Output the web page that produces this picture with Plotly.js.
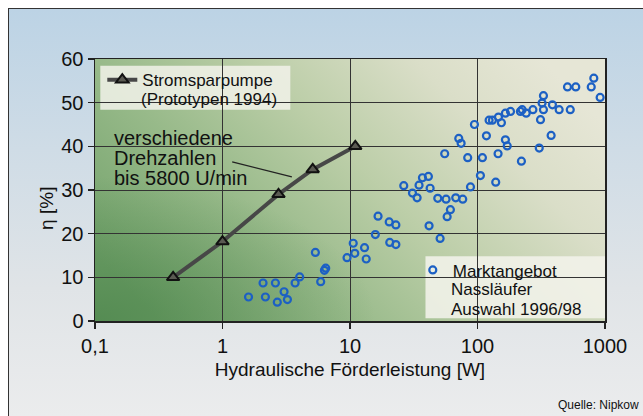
<!DOCTYPE html>
<html><head><meta charset="utf-8">
<script src="https://cdn.plot.ly/plotly-3.0.1.min.js"></script>
<style>
html,body{margin:0;padding:0;background:#fff;}
#wrap{position:relative;width:643px;height:416px;overflow:hidden;background:#fff;}
#frame{position:absolute;left:8px;top:8px;width:700px;height:500px;border-left:1.5px solid #333;border-top:1.5px solid #333;
background:linear-gradient(to bottom,#bcd3e5 0px,#cfdce6 140px,#e0e4e7 280px,#ebeced 408px);}
#chart{position:absolute;left:0;top:0;width:643px;height:416px;}
</style></head>
<body><div id="wrap"><div id="frame"></div><div id="chart"></div></div>
<script>
// Stromsparpumpe (Prototypen 1994)
const protoX = [0.41, 1.0, 2.75, 5.1, 11.0];
const protoY = [10.0, 18.2, 29.0, 34.7, 40.0];

// Marktangebot Nassläufer, Auswahl 1996/98
const marketX = [1.60, 2.08, 2.17, 2.60, 2.69, 3.04, 3.23, 3.71, 4.03, 5.35, 5.89, 6.3, 6.45, 9.48,
  10.6, 10.9, 13.0, 13.4, 15.8, 16.6, 20.3, 22.9, 20.5, 22.9, 26.4, 30.9, 33.6, 34.8, 37.0, 41.2,
  42.5, 41.7, 48.8, 50.9, 56.7, 61.3, 57.8, 67.5, 76.6, 55.3, 71.3, 74.4, 83.8, 88.1, 94.6, 105.4,
  109.3, 117.5, 139, 123.3, 130.9, 146, 154, 145, 165.5, 171, 165.5, 181.5, 217, 224, 241, 221,
  272, 305, 312, 329, 321, 329, 378, 387, 437, 534, 508, 590, 780, 817, 916];
const marketY = [5.5, 8.7, 5.5, 8.7, 4.3, 6.7, 4.9, 8.7, 10.1, 15.7, 9.0, 11.6, 12.1, 14.5,
  17.8, 15.5, 16.8, 14.2, 19.8, 24.0, 22.7, 22.0, 18.0, 17.5, 31.0, 29.3, 28.2, 31.1, 32.8, 33.1,
  30.4, 21.8, 28.1, 18.9, 27.9, 25.5, 23.9, 28.2, 27.9, 38.3, 41.8, 40.7, 37.4, 30.7, 45.0, 33.3,
  37.4, 42.4, 31.8, 46.0, 46.0, 46.7, 45.4, 38.3, 41.5, 40.1, 47.6, 48.0, 48.0, 48.4, 47.6, 36.6,
  48.4, 39.6, 46.1, 48.4, 49.9, 51.6, 42.5, 49.5, 48.4, 48.4, 53.6, 53.6, 53.6, 55.6, 51.2];

const xTickVals = [0.1, 1, 10, 100, 1000];
const xTickText = ['0,1', '1', '10', '100', '1000'];
const yTickVals = [0, 10, 20, 30, 40, 50, 60];

const protoName = ['Stromsparpumpe', '(Prototypen 1994)'];
const marketName = ['Marktangebot', 'Nassläufer', 'Auswahl 1996/98'];
const noteLines = ['verschiedene', 'Drehzahlen', 'bis 5800 U/min'];

const FONT = 'Liberation Sans, Arial, Helvetica, sans-serif';

const svg = '<svg xmlns="http://www.w3.org/2000/svg" width="510" height="262" viewBox="0 0 510 262" preserveAspectRatio="none">' +
  '<defs><linearGradient id="h" x1="0" y1="0.75" x2="1" y2="0.25">' +
  '<stop offset="0" stop-color="rgb(116,163,108)"/>' +
  '<stop offset="0.3" stop-color="rgb(152,186,138)"/>' +
  '<stop offset="0.55" stop-color="rgb(188,206,168)"/>' +
  '<stop offset="0.8" stop-color="rgb(218,222,200)"/>' +
  '<stop offset="1" stop-color="rgb(230,230,214)"/>' +
  '</linearGradient>' +
  '<radialGradient id="r" cx="0" cy="1" r="0.55">' +
  '<stop offset="0" stop-color="rgb(64,124,66)" stop-opacity="0.6"/>' +
  '<stop offset="1" stop-color="rgb(64,124,66)" stop-opacity="0"/>' +
  '</radialGradient></defs>' +
  '<rect width="510" height="262" fill="url(#h)"/><rect width="510" height="262" fill="url(#r)"/></svg>';

const traces = [
  {
    x: protoX, y: protoY, type: 'scatter', mode: 'lines+markers',
    name: protoName[0],
    line: {color: '#474747', width: 4},
    marker: {symbol: 'triangle-up', size: 11, color: '#5a5a52', line: {color: '#111', width: 2}},
    legend: 'legend'
  },
  {
    x: marketX, y: marketY, type: 'scatter', mode: 'markers',
    name: marketName[0],
    marker: {symbol: 'circle-open', size: 7, color: 'rgb(28,96,196)', line: {width: 2.2, color: 'rgb(28,96,196)'}},
    legend: 'legend2'
  }
];

const txt = (text, x, y, size, extra) => Object.assign({
  text: text, xref: 'paper', yref: 'paper', x: x, y: y,
  xanchor: 'left', yanchor: 'middle', showarrow: false,
  font: {family: FONT, size: size, color: '#111'}
}, extra || {});

const annotations = [];
noteLines.forEach((t, i) => annotations.push(txt(t, 0.034, [0.699, 0.622, 0.545][i], 20)));
annotations.push(txt(protoName[1], 0.0869, 0.8443, 17));
annotations.push(txt(marketName[1], 0.695, 0.1213, 17));
annotations.push(txt(marketName[2], 0.695, 0.0448, 17));
annotations.push(txt('η [%]', -0.095, 0.43, 19, {textangle: -90, xanchor: 'center'}));
annotations.push(txt('Quelle: Nipkow', 1.07, -0.32, 12, {xanchor: 'right'}));

const layout = {
  width: 643, height: 416,
  margin: {l: 95, r: 38, t: 59, b: 95},
  paper_bgcolor: 'rgba(0,0,0,0)',
  plot_bgcolor: 'rgba(0,0,0,0)',
  font: {family: FONT, color: '#111'},
  images: [{
    source: 'data:image/svg+xml;base64,' + btoa(svg),
    xref: 'paper', yref: 'paper', x: 0, y: 1, sizex: 1, sizey: 1,
    sizing: 'stretch', xanchor: 'left', yanchor: 'top', layer: 'below'
  }],
  xaxis: {
    type: 'log', range: [-1, 3],
    tickvals: xTickVals, ticktext: xTickText,
    ticks: 'outside', ticklen: 6, tickcolor: '#222', tickwidth: 1.2,
    showgrid: true, gridcolor: '#333', gridwidth: 1,
    showline: true, linecolor: '#222', linewidth: 1.5, mirror: true,
    zeroline: false,
    tickfont: {family: FONT, size: 20, color: '#111'},
    title: {text: 'Hydraulische Förderleistung [W]', font: {family: FONT, size: 19, color: '#111'}, standoff: 7}
  },
  yaxis: {
    range: [0, 60], tickvals: yTickVals,
    ticks: 'outside', ticklen: 6, tickcolor: '#222', tickwidth: 1.2,
    showgrid: true, gridcolor: '#333', gridwidth: 1,
    showline: true, linecolor: '#222', linewidth: 1.5, mirror: true,
    zeroline: false,
    tickfont: {family: FONT, size: 20, color: '#111'}
  },
  legend: {
    x: 0.0143, y: 0.988, xanchor: 'left', yanchor: 'top',
    bgcolor: 'rgba(0,0,0,0)', borderwidth: 0,
    font: {family: FONT, size: 17, color: '#111'},
    itemwidth: 30
  },
  legend2: {
    x: 0.6231, y: 0.2621, xanchor: 'left', yanchor: 'top',
    bgcolor: 'rgba(0,0,0,0)', borderwidth: 0,
    font: {family: FONT, size: 17, color: '#111'},
    itemwidth: 30
  },
  shapes: [
    {type: 'rect', xref: 'paper', yref: 'paper', x0: 0.0104, x1: 0.383, y0: 0.806, y1: 0.974,
     fillcolor: 'rgba(242,242,234,0.85)', line: {width: 0}, layer: 'between'},
    {type: 'rect', xref: 'paper', yref: 'paper', x0: 0.648, x1: 1.0, y0: 0.0103, y1: 0.2475,
     fillcolor: 'rgba(242,242,234,0.88)', line: {width: 0}, layer: 'between'},
    {type: 'line', xref: 'paper', yref: 'paper', x0: 0.269, y0: 0.607, x1: 0.386, y1: 0.550,
     line: {color: '#222', width: 1.3}}
  ],
  annotations: annotations,
  showlegend: true
};

Plotly.newPlot('chart', traces, layout, {displayModeBar: false, staticPlot: true});
</script>
</body></html>
